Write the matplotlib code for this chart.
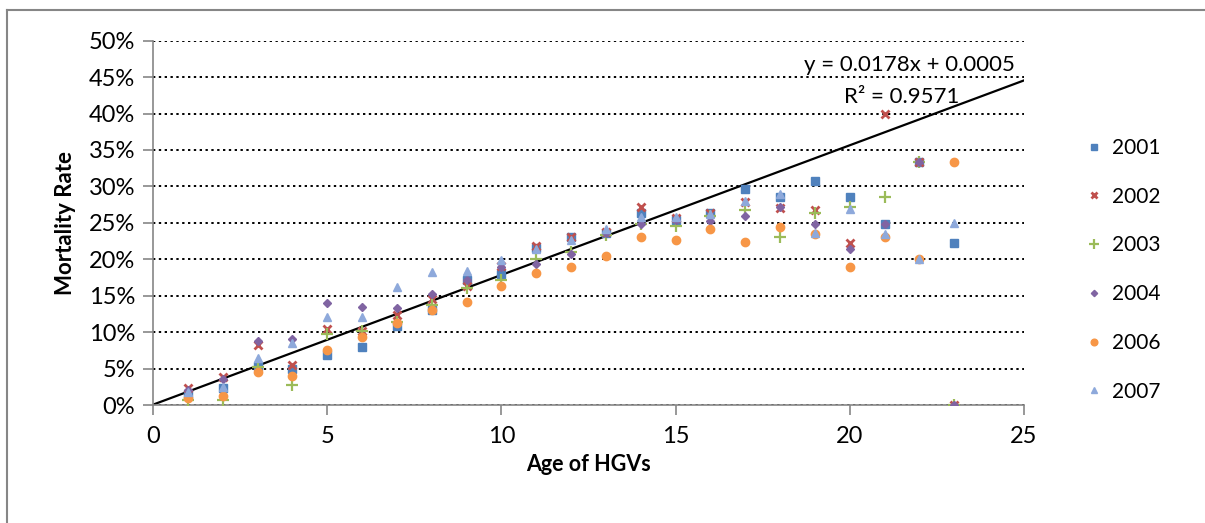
import matplotlib
matplotlib.use("Agg")
import matplotlib.pyplot as plt
from matplotlib.lines import Line2D
from matplotlib.ticker import FuncFormatter, MultipleLocator

# ---- data (mortality rate in %) ---------------------------------------
ages = list(range(1, 24))

rate_2001 = [1.5, 2.3, 5.3, 5.0, 6.9, 8.0, 10.8, 13.1, 17.2, 18.0, 21.5, 23.1,
             23.6, 26.3, 25.4, 26.4, 29.7, 28.5, 30.7, 28.5, 24.9, 33.3, 22.2]
rate_2002 = [2.4, 3.9, 8.2, 5.5, 10.5, 10.2, 12.4, 14.6, 16.3, 19.1, 21.8, 23.1,
             23.8, 27.2, 25.6, 26.4, 27.9, 27.0, 26.8, 22.2, 40.0, 33.3, 0.0]
rate_2003 = [0.7, 0.7, 5.2, 2.7, 9.8, 10.1, 11.4, 13.7, 16.0, 17.2, 20.0, 21.0,
             23.3, 24.9, 24.5, 25.9, 26.7, 23.1, 26.3, 27.2, 28.5, 33.3, 0.0]
rate_2004 = [2.0, 3.6, 8.8, 9.1, 14.0, 13.5, 13.3, 15.2, 17.2, 19.0, 19.4, 20.7,
             23.6, 24.9, 25.4, 25.3, 25.9, 27.2, 24.9, 21.4, 24.9, 33.3, 0.0]
rate_2006 = [0.9, 1.3, 4.5, 4.0, 7.5, 9.3, 11.3, 13.1, 14.2, 16.3, 18.1, 19.0,
             20.5, 23.0, 22.6, 24.2, 22.4, 24.4, 23.5, 19.0, 23.0, 20.0, 33.3]
rate_2007 = [1.8, 2.5, 6.5, 8.5, 12.1, 12.1, 16.2, 18.2, 18.4, 19.9, 21.4, 22.6,
             24.2, 25.8, 25.8, 26.2, 28.0, 29.0, 23.6, 26.9, 23.5, 20.0, 25.0]

years = ["2001", "2002", "2003", "2004", "2006", "2007"]
series = [rate_2001, rate_2002, rate_2003, rate_2004, rate_2006, rate_2007]

# linear trend shown on the chart
slope, intercept = 0.0178, 0.0005

# ---- style -----------------------------------------------------------
plt.rcParams["font.family"] = ["Lato", "DejaVu Sans"]
styles = [
    dict(marker="s", color="#4F81BD", ms=5.5),
    dict(marker="x", color="#C0504D", ms=6, mew=2.0),
    dict(marker="+", color="#9BBB59", ms=9, mew=1.6),
    dict(marker="D", color="#8064A2", ms=4),
    dict(marker="o", color="#F79646", ms=6),
    dict(marker="^", color="#8EA9DB", ms=6),
]

fig = plt.figure(figsize=(12.05, 5.23), dpi=100)
ax = fig.add_axes([0.127, 0.2256, 0.7228, 0.6966])

for yr, vals, st in zip(years, series, styles):
    ax.plot(ages, [v / 100 for v in vals], linestyle="none", label=yr,
            marker=st["marker"], color=st["color"], markersize=st["ms"],
            markeredgewidth=st.get("mew", 1.0), zorder=3)

xs = [0, 25]
ax.plot(xs, [slope * x + intercept for x in xs], color="black", lw=1.6,
        zorder=2)

ax.set_xlim(0, 25)
ax.set_ylim(0, 0.5)
ax.xaxis.set_major_locator(MultipleLocator(5))
ax.yaxis.set_major_locator(MultipleLocator(0.05))
ax.yaxis.set_major_formatter(FuncFormatter(lambda v, _: f"{v * 100:.0f}%"))
ax.grid(axis="y", color="black", linestyle=(0, (1.2, 1.8)), linewidth=1.4)
ax.set_axisbelow(True)

for s in ("top", "right"):
    ax.spines[s].set_visible(False)
for s in ("left", "bottom"):
    ax.spines[s].set_color("#868686")
    ax.spines[s].set_linewidth(1.2)
ax.tick_params(colors="#868686", length=7, width=1.2, labelsize=17,
               labelcolor="black")
ax.tick_params(axis="x", pad=8)
ax.tick_params(axis="y", pad=6)

ax.set_xlabel("Age of HGVs", fontsize=15.5, fontweight="bold", labelpad=5)
ax.set_ylabel("Mortality Rate", fontsize=16, fontweight="bold", labelpad=9)

ax.text(21.7, 0.467, "y = 0.0178x + 0.0005", fontsize=16, ha="center",
        va="center")
ax.text(21.5, 0.423, "R² = 0.9571", fontsize=16, ha="center", va="center")

handles = [Line2D([], [], linestyle="none", marker=st["marker"],
                  color=st["color"], markersize=st["ms"] * 0.8,
                  markeredgewidth=st.get("mew", 1.0))
           for st in styles]
fig.legend(handles, years, loc="center left", bbox_to_anchor=(0.892, 0.484),
           frameon=False, fontsize=15, handlelength=0.8, handletextpad=0.5,
           labelspacing=1.38, borderpad=0)

# chart-area border (cropped at right and bottom)
fig.add_artist(Line2D([7 / 1205, 7 / 1205], [0, 1 - 10 / 523],
                      transform=fig.transFigure, color="#868686", lw=1.5))
fig.add_artist(Line2D([7 / 1205, 1], [1 - 10 / 523, 1 - 10 / 523],
                      transform=fig.transFigure, color="#868686", lw=1.5))

fig.savefig("out.png", dpi=100)
